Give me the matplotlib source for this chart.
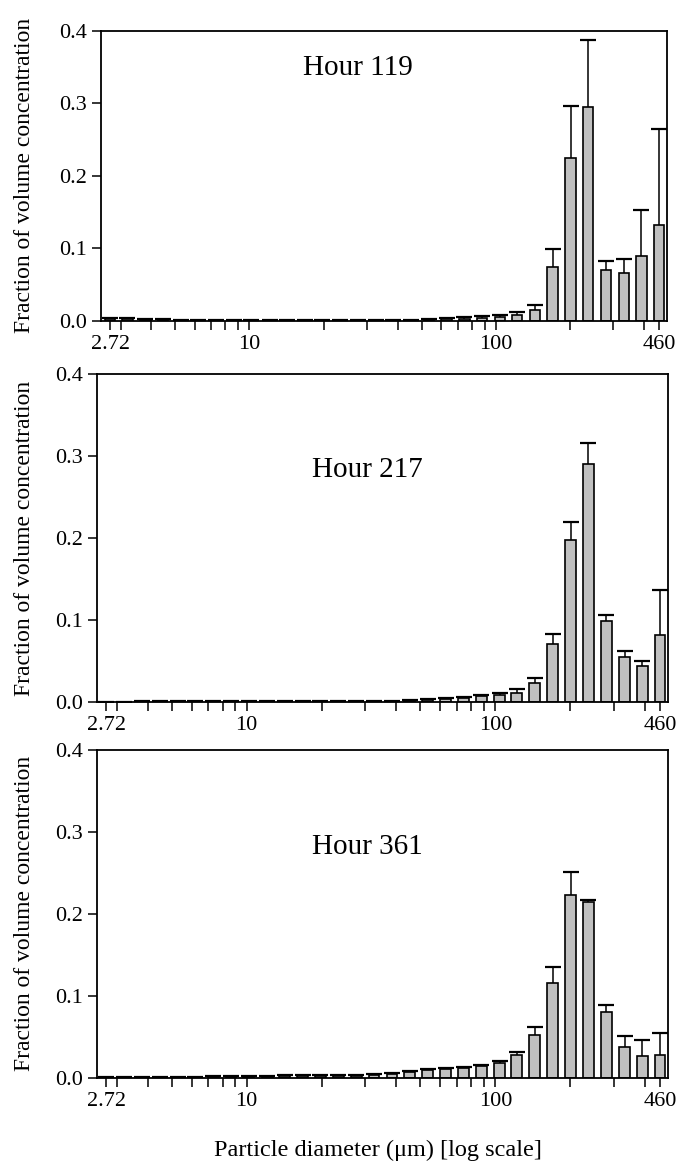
import numpy as np
import matplotlib
matplotlib.use("Agg")
import matplotlib.pyplot as plt

plt.rcParams['font.family'] = ['Liberation Serif', 'DejaVu Serif']

# LISST size-class midpoints (µm)
diameters = [2.72, 3.2, 3.78, 4.46, 5.27, 6.21, 7.33, 8.65, 10.2, 12.1, 14.2,
             16.8, 19.8, 23.4, 27.6, 32.5, 38.4, 45.3, 53.5, 63.1, 74.5, 87.9,
             104, 122, 144, 170, 201, 237, 280, 331, 390, 460]

hour_labels = ["Hour 119", "Hour 217", "Hour 361"]

# mean fraction of volume concentration per size class
mean_119 = [0.0022, 0.0018, 0.0012, 0.0009, 0.0007, 0.0006, 0.0006, 0.0005,
            0.0004, 0.0003, 0.0003, 0.0003, 0.0003, 0.0003, 0.0003, 0.0003,
            0.0005, 0.0008, 0.0014, 0.0018, 0.0028, 0.0032, 0.0046, 0.0074,
            0.0150, 0.0745, 0.2249, 0.2948, 0.0699, 0.0653, 0.0892, 0.1315]
err_119 = [0.0022, 0.0020, 0.0010, 0.0008, 0.0005, 0.0005, 0.0004, 0.0004,
           0.0003, 0.0002, 0.0002, 0.0002, 0.0002, 0.0002, 0.0002, 0.0003,
           0.0005, 0.0008, 0.0008, 0.0014, 0.0023, 0.0037, 0.0037, 0.0041,
           0.0070, 0.0240, 0.0708, 0.0924, 0.0124, 0.0202, 0.0631, 0.1329]

mean_217 = [0.0003, 0.0003, 0.0004, 0.0005, 0.0005, 0.0006, 0.0006, 0.0006,
            0.0006, 0.0006, 0.0006, 0.0006, 0.0006, 0.0006, 0.0006, 0.0008,
            0.0012, 0.0016, 0.0024, 0.0037, 0.0049, 0.0073, 0.0081, 0.0110,
            0.0236, 0.0707, 0.1972, 0.2902, 0.0992, 0.0545, 0.0435, 0.0821]
err_217 = [0.0003, 0.0003, 0.0003, 0.0003, 0.0003, 0.0003, 0.0003, 0.0003,
           0.0003, 0.0003, 0.0003, 0.0003, 0.0003, 0.0003, 0.0003, 0.0004,
           0.0005, 0.0006, 0.0009, 0.0008, 0.0012, 0.0016, 0.0025, 0.0044,
           0.0061, 0.0122, 0.0227, 0.0253, 0.0073, 0.0081, 0.0069, 0.0545]

mean_361 = [0.0002, 0.0002, 0.0003, 0.0004, 0.0006, 0.0008, 0.0010, 0.0012,
            0.0014, 0.0016, 0.0020, 0.0022, 0.0024, 0.0024, 0.0026, 0.0037,
            0.0050, 0.0071, 0.0088, 0.0108, 0.0124, 0.0140, 0.0177, 0.0272,
            0.0521, 0.1151, 0.2228, 0.2143, 0.0801, 0.0378, 0.0265, 0.0273]
err_361 = [0.0003, 0.0003, 0.0003, 0.0004, 0.0005, 0.0006, 0.0007, 0.0008,
           0.0009, 0.0010, 0.0010, 0.0011, 0.0011, 0.0011, 0.0011, 0.0012,
           0.0012, 0.0015, 0.0015, 0.0013, 0.0012, 0.0014, 0.0021, 0.0045,
           0.0101, 0.0203, 0.0284, 0.0024, 0.0086, 0.0131, 0.0195, 0.0268]

x_tick_values = [2.72, 3, 4, 5, 6, 7, 8, 9, 10, 20, 30, 40, 50, 60, 70, 80, 90,
                 100, 200, 300, 400, 460]
x_tick_labelled = {2.72: "2.72", 10: "10", 100: "100", 460: "460"}
y_tick_values = [0.0, 0.1, 0.2, 0.3, 0.4]

means = [mean_119, mean_217, mean_361]
errs = [err_119, err_217, err_361]

W, H = 678, 1172
fig = plt.figure(figsize=(W / 100, H / 100), dpi=100)

# axes boxes in pixels: left, right, top, bottom
boxes = [(101, 667, 30.7, 320.7),
         (97, 668, 374, 702),
         (97, 668, 749.7, 1077.7)]
title_pos = [(0.454, 0.871), (0.473, 0.707), (0.473, 0.704)]

d = np.array(diameters)
step = 1.18
half = step ** 0.3
lefts = d / half
widths = d * half - lefts

for i, (l, r, t, b) in enumerate(boxes):
    ax = fig.add_axes([l / W, 1 - b / H, (r - l) / W, (b - t) / H])
    m = np.array(means[i])
    e = np.array(errs[i])
    ax.bar(lefts, m, width=widths, align='edge', color='#c0c0c0',
           edgecolor='black', linewidth=1.2, zorder=2)
    ax.vlines(d, m, m + e, color='black', linewidth=1.1, zorder=3)
    ax.plot(d, m + e, linestyle='none', marker='_', markersize=11.5,
            markeredgewidth=1.6, color='black', zorder=3)

    ax.set_xscale('log')
    ax.set_xlim(2.5, 495)
    ax.set_ylim(0, 0.4)
    ax.set_xticks(x_tick_values)
    ax.set_xticklabels([x_tick_labelled.get(v, "") for v in x_tick_values])
    ax.xaxis.set_minor_locator(matplotlib.ticker.NullLocator())
    ax.set_yticks(y_tick_values)
    ax.set_yticklabels([f"{v:.1f}" for v in y_tick_values])
    ax.tick_params(direction='out', length=6.3, width=1.1, labelsize=16,
                   pad=4, colors='black')
    for s in ax.spines.values():
        s.set_linewidth(1.3)
    ax.text(title_pos[i][0], title_pos[i][1], hour_labels[i],
            transform=ax.transAxes, ha='center', va='center', fontsize=21)
    fig.text(25 / W, 1 - (t + b) / 2 / H, "Fraction of volume concentration",
             rotation=90, ha='center', va='center', fontsize=17)

fig.text(378 / W, 1 - 1150 / H, "Particle diameter (μm) [log scale]",
         ha='center', va='center', fontsize=17.5)

fig.savefig("out.png", dpi=100)
